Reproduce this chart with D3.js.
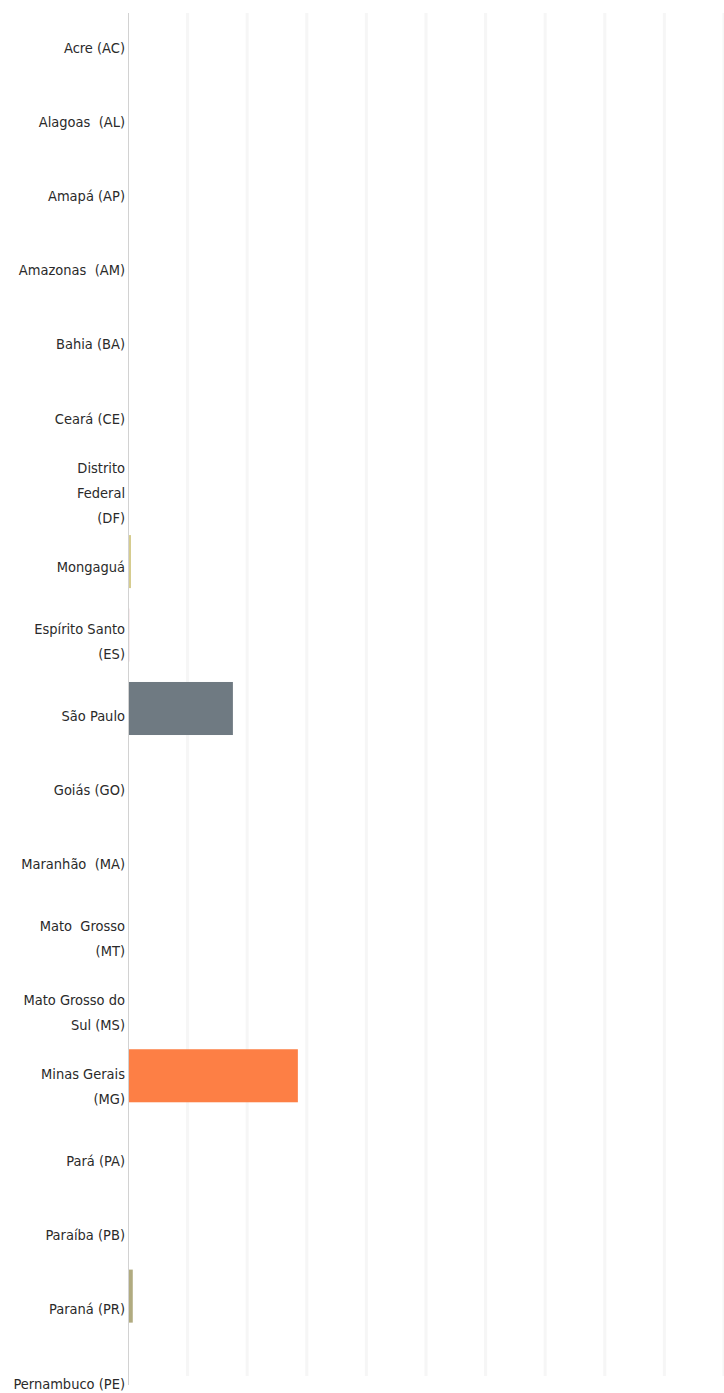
<!DOCTYPE html>
<html>
<head>
<meta charset="utf-8">
<script src="https://cdn.jsdelivr.net/npm/d3@7"></script>
<style>
  html, body { margin: 0; padding: 0; background: #fff; }
  svg { display: block; }
</style>
</head>
<body>
<svg id="chart"></svg>
<script>
// categories (label lines) and values
const states = ['AC', 'AL', 'AP', 'AM', 'BA', 'CE', 'DF', 'MO', 'ES', 'SP', 'GO', 'MA', 'MT', 'MS', 'MG', 'PA', 'PB', 'PR', 'PE'];
const labels = [
  ['Acre (AC)'],
  ['Alagoas  (AL)'],
  ['Amapá (AP)'],
  ['Amazonas  (AM)'],
  ['Bahia (BA)'],
  ['Ceará (CE)'],
  ['Distrito', 'Federal', '(DF)'],
  ['Mongaguá'],
  ['Espírito Santo', '(ES)'],
  ['São Paulo'],
  ['Goiás (GO)'],
  ['Maranhão  (MA)'],
  ['Mato  Grosso', '(MT)'],
  ['Mato Grosso do', 'Sul (MS)'],
  ['Minas Gerais', '(MG)'],
  ['Pará (PA)'],
  ['Paraíba (PB)'],
  ['Paraná (PR)'],
  ['Pernambuco (PE)']
];
const values = [0, 0, 0, 0, 0, 0, 0, 0.05, 0.02, 1.76, 0, 0, 0, 0, 2.85, 0, 0, 0.08, 0];
const barColors = ['#ccc', '#ccc', '#ccc', '#ccc', '#ccc', '#ccc', '#ccc', '#d6cc8e', '#dba0aa', '#6f7a82', '#ccc', '#ccc', '#ccc', '#ccc', '#fd7f45', '#ccc', '#ccc', '#b1ab80', '#ccc'];
const xTicks = d3.range(0, 11, 1);

const W = 724, H = 1393;
const plot = {left: 128, right: 724, top: 13, bottom: 1376};

const svg = d3.select('#chart').attr('width', W).attr('height', H);

const x = d3.scaleLinear().domain([0, 10]).range([plot.left, plot.right]);

const y = d3.scaleBand()
  .domain(states)
  .range([10.7, 1406.3])
  .paddingInner(0.278)
  .paddingOuter(0.139);

// label positions follow their own spacing in the original
const yLab = d3.scalePoint().domain(states).range([47, 1383]);

// grid
svg.append('g')
  .selectAll('line')
  .data(xTicks.slice(1))
  .join('line')
    .attr('x1', d => x(d)).attr('x2', d => x(d))
    .attr('y1', plot.top).attr('y2', plot.bottom)
    .attr('stroke', '#f6f6f6')
    .attr('stroke-width', 3);

// bars
svg.append('g')
  .selectAll('rect')
  .data(states)
  .join('rect')
    .attr('x', x(0))
    .attr('y', d => y(d))
    .attr('width', (d, i) => x(values[i]) - x(0))
    .attr('height', y.bandwidth())
    .attr('fill', (d, i) => barColors[i]);

// y axis line
svg.append('line')
  .attr('x1', plot.left + 0.5).attr('x2', plot.left + 0.5)
  .attr('y1', plot.top).attr('y2', 1385)
  .attr('stroke', '#d2d2d2')
  .attr('stroke-width', 1);

// labels through axis
const yAxis = svg.append('g')
  .attr('transform', `translate(${plot.left - 3},0)`)
  .call(d3.axisLeft(yLab).tickSize(0).tickPadding(0));
yAxis.select('.domain').remove();

const lineH = 25;
yAxis.selectAll('.tick text')
  .attr('font-family', '"DejaVu Sans Condensed", "DejaVu Sans", sans-serif')
  .attr('font-size', 14.5)
  .attr('fill', '#2a2a2a')
  .attr('dy', null)
  .text(null)
  .each(function (d) {
    const lines = labels[states.indexOf(d)];
    const t = d3.select(this);
    const y0 = -(lines.length - 1) * lineH / 2;
    lines.forEach((ln, k) => {
      t.append('tspan')
        .attr('x', 0)
        .attr('y', y0 + k * lineH)
        .attr('dy', '0.35em')
        .style('white-space', 'pre')
        .text(ln);
    });
  });
</script>
</body>
</html>
